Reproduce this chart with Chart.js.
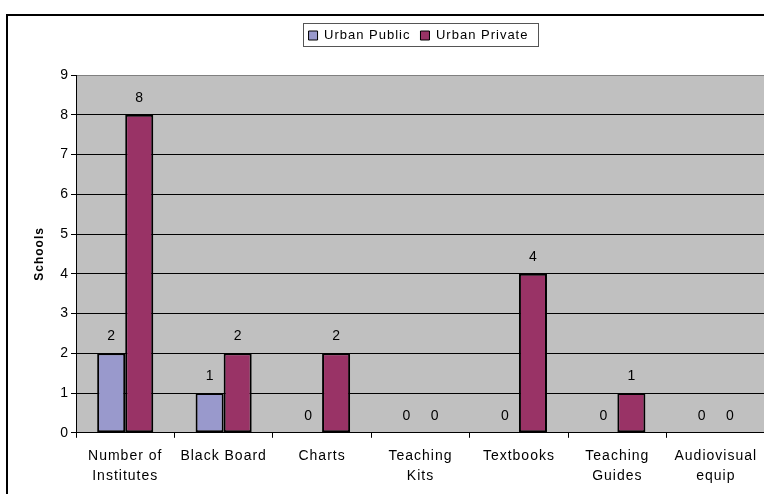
<!DOCTYPE html>
<html>
<head>
<meta charset="utf-8">
<script src="https://cdn.jsdelivr.net/npm/chart.js@4.4.1/dist/chart.umd.min.js"></script>
<style>
  html, body { margin: 0; padding: 0; background: #fff; }
  #wrap { position: relative; width: 764px; height: 494px; overflow: hidden; }
  #frame { position: absolute; left: 6px; top: 14px; width: 900px; height: 600px; border: 2px solid #000; pointer-events: none; }
  #cv { position: absolute; left: 0; top: 0; }
</style>
</head>
<body>
<div id="wrap">
  <canvas id="cv" width="846" height="494"></canvas>
  <div id="frame"></div>
</div>
<script>
// categories and values
const categories = [
    ['Number of', 'Institutes'],
    ['Black Board'],
    ['Charts'],
    ['Teaching', 'Kits'],
    ['Textbooks'],
    ['Teaching', 'Guides'],
    ['Audiovisual', 'equip']
];
const urbanPublic = [2, 1, 0, 0, 0, 0, 0];
const urbanPrivate = [8, 2, 2, 0, 4, 1, 0];
const yTicks = [0, 1, 2, 3, 4, 5, 6, 7, 8, 9];

Chart.defaults.font.family = "'Liberation Sans', Arial, sans-serif";
Chart.defaults.color = '#000';

// the old export has loose letter spacing
const spacing = {
    id: 'spacing',
    beforeLayout(chart) { chart.ctx.letterSpacing = '1px'; },
    beforeDraw(chart) { chart.ctx.letterSpacing = '1px'; }
};

// gray plot background
const plotBg = {
    id: 'plotBg',
    beforeDraw(chart) {
        const a = chart.chartArea;
        const ctx = chart.ctx;
        ctx.save();
        ctx.fillStyle = '#C0C0C0';
        ctx.fillRect(a.left, a.top, a.right - a.left, a.bottom - a.top);
        ctx.restore();
    }
};

// legend height fixed, nudged right, plus a frame around the legend items
const legendBox = {
    id: 'legendBox',
    beforeLayout(chart) {
        const lg = chart.legend;
        if (lg && !lg._wrapped) {
            const fit = lg.fit;
            lg.fit = function () {
                fit.call(this);
                this.height = 56;
            };
            lg._wrapped = true;
        }
    },
    afterLayout(chart) {
        chart.legend.left += 44;
    },
    afterDraw(chart) {
        const hb = chart.legend.legendHitBoxes;
        if (!hb || !hb.length) return;
        const left = hb[0].left - 6;
        const last = hb[hb.length - 1];
        const right = last.left + last.width + 9;
        const ctx = chart.ctx;
        ctx.save();
        ctx.strokeStyle = '#555';
        ctx.lineWidth = 1;
        ctx.strokeRect(Math.round(left) + 0.5, 23.5, Math.round(right - left), 23);
        ctx.restore();
    }
};

// value labels above each bar
const valueLabels = {
    id: 'valueLabels',
    afterDatasetsDraw(chart) {
        const ctx = chart.ctx;
        ctx.save();
        ctx.font = "14px 'Liberation Sans', Arial, sans-serif";
        ctx.fillStyle = '#000';
        ctx.textAlign = 'center';
        ctx.textBaseline = 'middle';
        chart.data.datasets.forEach((ds, i) => {
            chart.getDatasetMeta(i).data.forEach((bar, j) => {
                ctx.fillText(String(ds.data[j]), bar.x + 0.5, bar.y - 17);
            });
        });
        ctx.restore();
    }
};

new Chart(document.getElementById('cv'), {
    type: 'bar',
    data: {
        labels: categories,
        datasets: [
            {
                label: 'Urban Public',
                data: urbanPublic,
                backgroundColor: '#9999CC',
                borderColor: '#000',
                borderWidth: 2,
                borderSkipped: false
            },
            {
                label: 'Urban Private',
                data: urbanPrivate,
                backgroundColor: '#993366',
                borderColor: '#000',
                borderWidth: 2,
                borderSkipped: false
            }
        ]
    },
    options: {
        responsive: false,
        animation: false,
        devicePixelRatio: 1,
        layout: { padding: { top: 19, left: 28, right: 81, bottom: -1 } },
        datasets: {
            bar: { categoryPercentage: 0.57, barPercentage: 1 }
        },
        plugins: {
            tooltip: { enabled: false },
            legend: {
                position: 'top',
                labels: {
                    boxWidth: 9,
                    boxHeight: 9,
                    padding: 10,
                    font: { size: 13 },
                    generateLabels(chart) {
                        const items = Chart.defaults.plugins.legend.labels.generateLabels(chart);
                        items.forEach(it => { it.lineWidth = 1; });
                        return items;
                    }
                }
            }
        },
        scales: {
            x: {
                grid: {
                    offset: true,
                    drawOnChartArea: false,
                    drawTicks: true,
                    tickLength: 5,
                    color: '#000'
                },
                border: { color: '#000', width: 1 },
                ticks: {
                    padding: 9,
                    maxRotation: 0,
                    autoSkip: false,
                    font: { size: 14, lineHeight: 1.4 }
                }
            },
            y: {
                min: 0,
                max: 9,
                afterFit(scale) { scale.width = 48; },
                afterBuildTicks(scale) { scale.ticks = yTicks.map(v => ({ value: v })); },
                grid: {
                    color: ctx => (ctx.tick && ctx.tick.value === 9) ? '#808080' : '#000',
                    tickColor: '#000',
                    tickLength: 5
                },
                border: { color: '#000', width: 1 },
                ticks: { padding: 2, font: { size: 14 } },
                title: {
                    display: true,
                    text: 'Schools',
                    font: { size: 12, weight: 'bold' },
                    padding: { top: 4, bottom: 4 }
                }
            }
        }
    },
    plugins: [spacing, plotBg, legendBox, valueLabels]
});
</script>
</body>
</html>
